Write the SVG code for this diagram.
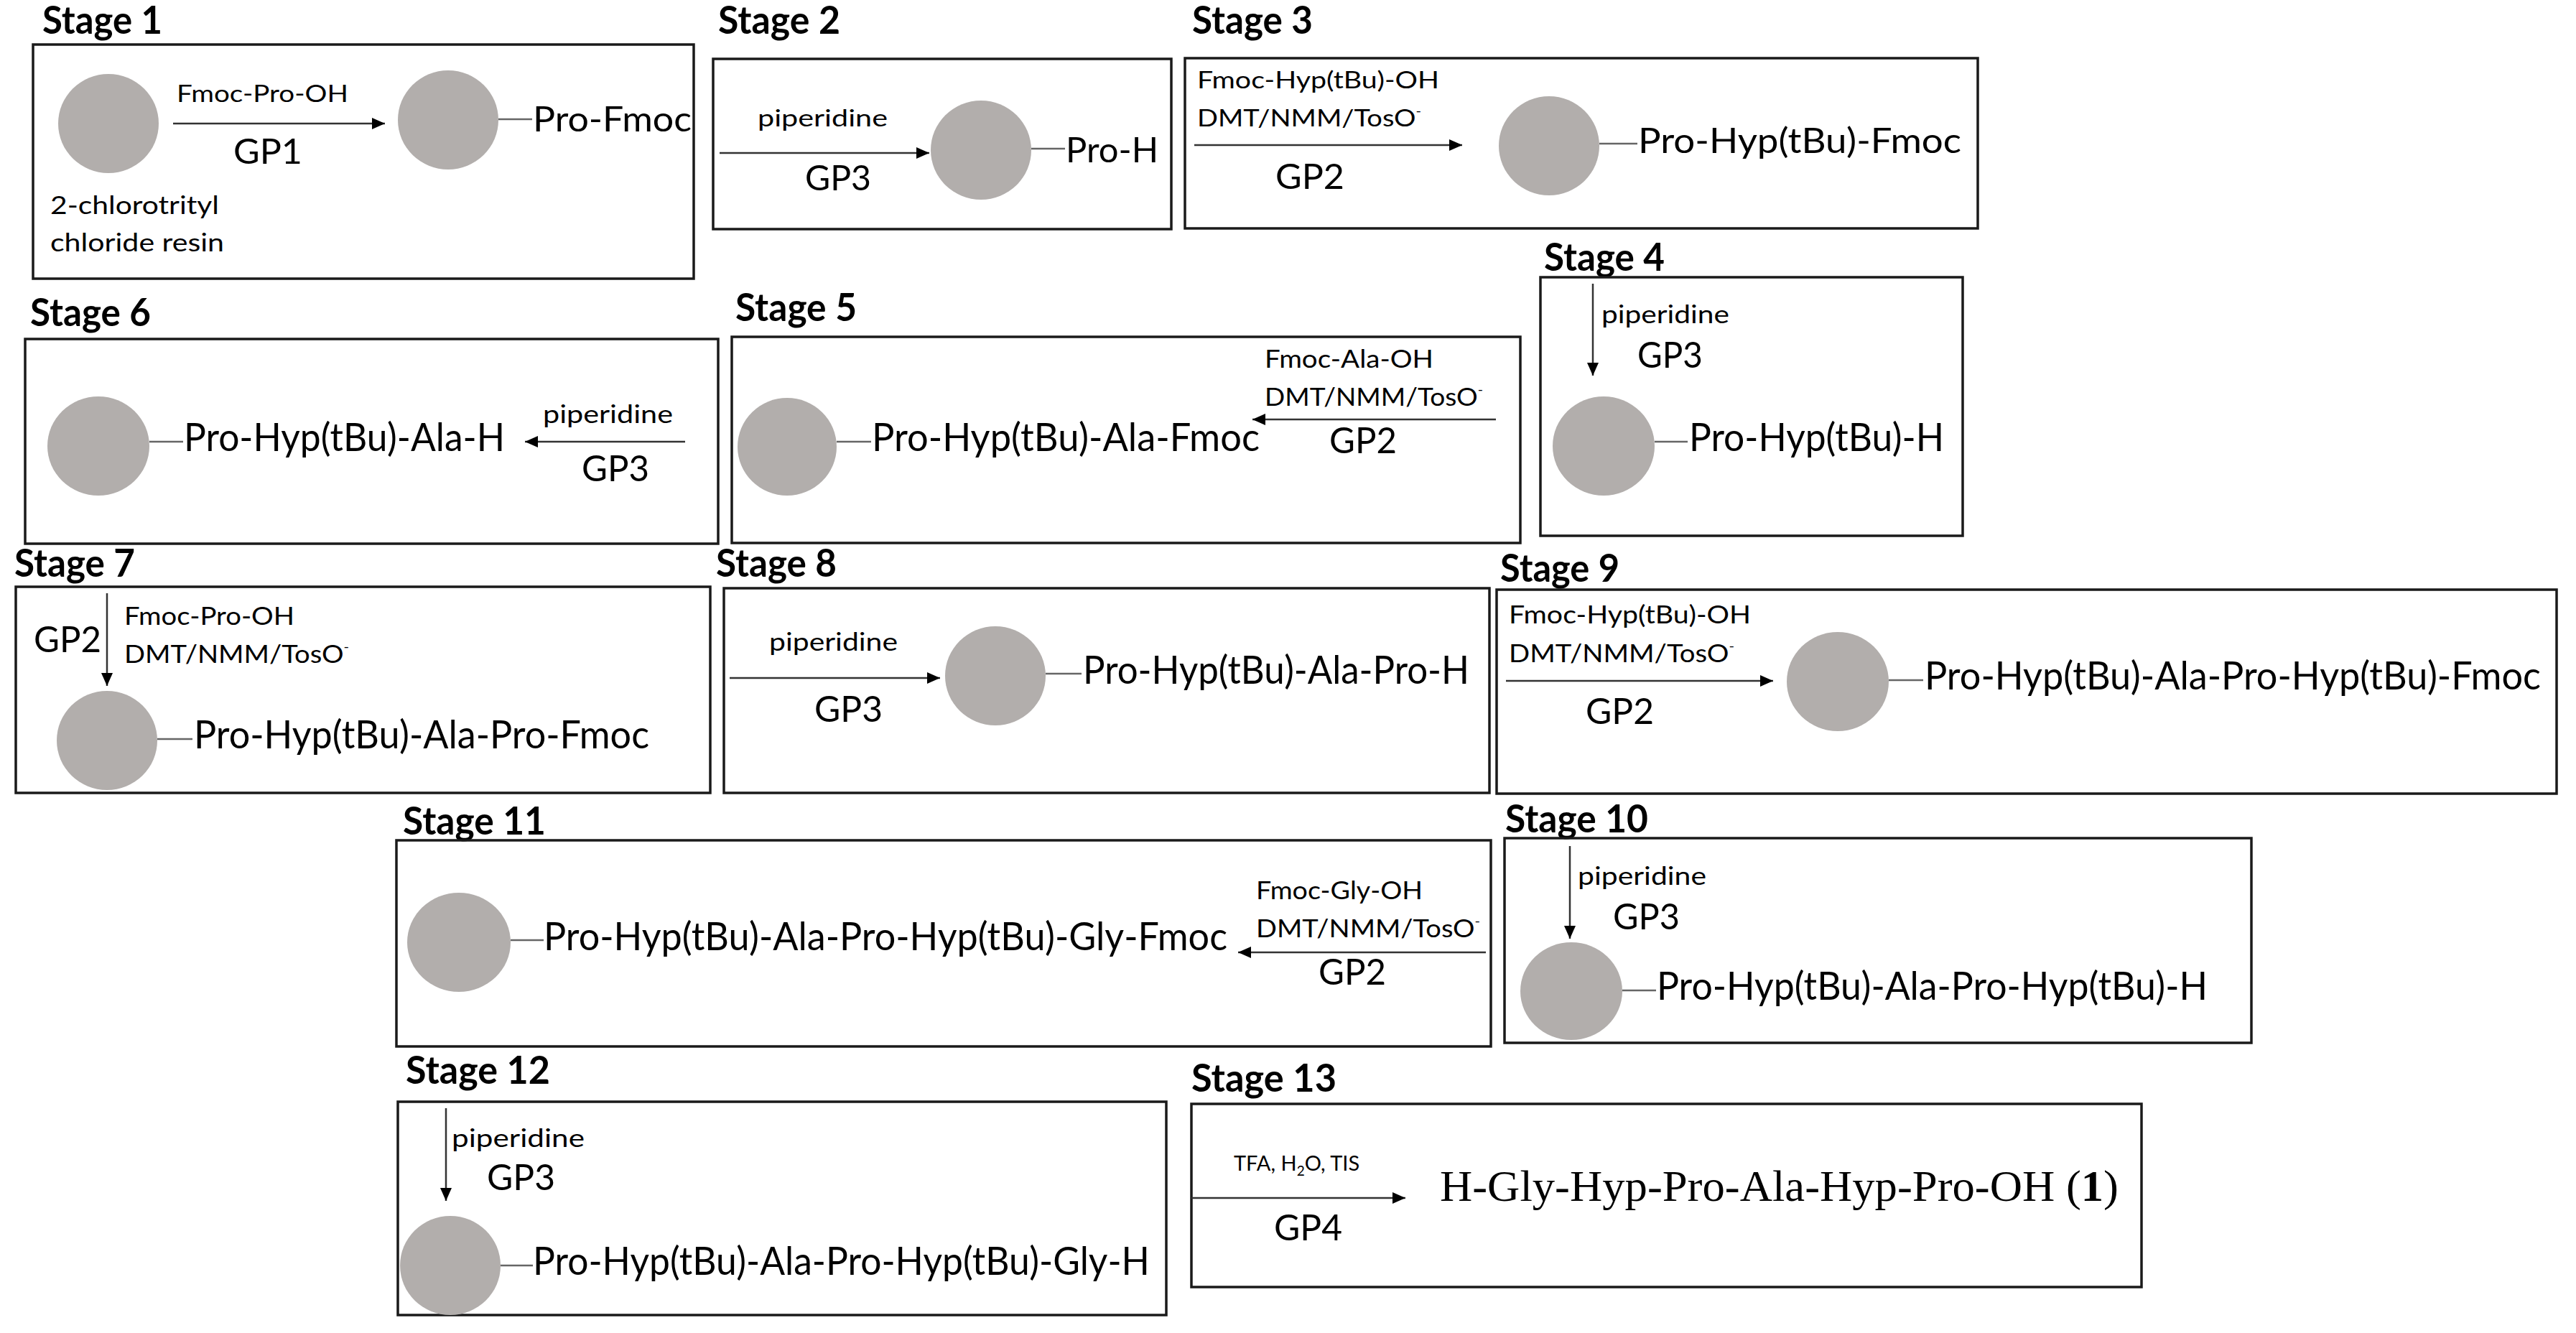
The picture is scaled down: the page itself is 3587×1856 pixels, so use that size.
<svg xmlns="http://www.w3.org/2000/svg" width="3587" height="1856" viewBox="0 0 3587 1856">
<style>
.bg{fill:#ffffff}
.box{fill:none;stroke:#1a1a1a;stroke-width:3.5}
.bead{fill:#b2aeac}
.tie{stroke:#666666;stroke-width:2.5}
.arr{stroke:#333333;stroke-width:2.5;fill:none;marker-end:url(#ah)}
.st{font-family:Lato,"Open Sans","Liberation Sans",sans-serif;font-weight:bold;font-size:54px;fill:#000}
.pr{font-family:Lato,"Open Sans","Liberation Sans",sans-serif;font-size:55px;fill:#000}
.pr1{font-family:Lato,"Open Sans","Liberation Sans",sans-serif;font-size:48px;fill:#000}
.gp{font-family:Lato,"Open Sans","Liberation Sans",sans-serif;font-size:50px;fill:#000}
.gp1{font-family:Lato,"Open Sans","Liberation Sans",sans-serif;font-size:48px;fill:#000}
.rg{font-family:Lato,"Open Sans","Liberation Sans",sans-serif;font-size:34px;fill:#000}
.rg1{font-family:Lato,"Open Sans","Liberation Sans",sans-serif;font-size:32px;fill:#000}
.sm{font-family:Lato,"Open Sans","Liberation Sans",sans-serif;font-size:29px;fill:#000}
.fin{font-family:"Liberation Serif","Times New Roman",serif;font-size:61px;fill:#000}
</style>
<defs>
<marker id="ah" markerUnits="userSpaceOnUse" markerWidth="20" markerHeight="18" refX="18" refY="8" orient="auto">
<path d="M0,0 L18,8 L0,16 z" fill="#000"/>
</marker>
</defs>
<rect class="bg" x="0" y="0" width="3587" height="1856"/>

<g id="stage1">
<text class="st" x="59" y="47" textLength="167" lengthAdjust="spacingAndGlyphs">Stage 1</text>
<rect class="box" x="46" y="62" width="920" height="326"/>
<ellipse class="bead" cx="151" cy="172" rx="70" ry="69"/>
<text class="rg1" x="246" y="142" textLength="239" lengthAdjust="spacingAndGlyphs">Fmoc-Pro-OH</text>
<text class="gp1" x="325" y="228" textLength="96" lengthAdjust="spacingAndGlyphs">GP1</text>
<ellipse class="bead" cx="624" cy="167" rx="70" ry="69"/>
<line class="tie" x1="694" y1="166" x2="741" y2="166"/>
<text class="pr1" x="742" y="183" textLength="221" lengthAdjust="spacingAndGlyphs">Pro-Fmoc</text>
<text class="rg" x="70" y="298" textLength="235" lengthAdjust="spacingAndGlyphs">2-chlorotrityl</text>
<text class="rg" x="70" y="350" textLength="242" lengthAdjust="spacingAndGlyphs">chloride resin</text>
</g>

<g id="stage2">
<text class="st" x="1000" y="47" textLength="170" lengthAdjust="spacingAndGlyphs">Stage 2</text>
<rect class="box" x="993" y="82" width="638" height="237"/>
<text class="rg1" x="1055" y="176" textLength="181" lengthAdjust="spacingAndGlyphs">piperidine</text>
<text class="gp1" x="1121" y="265" textLength="92" lengthAdjust="spacingAndGlyphs">GP3</text>
<ellipse class="bead" cx="1366" cy="209" rx="70" ry="69"/>
<line class="tie" x1="1436" y1="207" x2="1483" y2="207"/>
<text class="pr1" x="1484" y="226" textLength="129" lengthAdjust="spacingAndGlyphs">Pro-H</text>
</g>

<g id="stage3">
<text class="st" x="1660" y="47" textLength="168" lengthAdjust="spacingAndGlyphs">Stage 3</text>
<rect class="box" x="1650" y="81" width="1104" height="237"/>
<text class="rg1" x="1667" y="123" textLength="337" lengthAdjust="spacingAndGlyphs">Fmoc-Hyp(tBu)-OH</text>
<text class="rg1" x="1667" y="176" textLength="312" lengthAdjust="spacingAndGlyphs">DMT/NMM/TosO<tspan font-size="17" dy="-15">-</tspan></text>
<text class="gp1" x="1776" y="263" textLength="96" lengthAdjust="spacingAndGlyphs">GP2</text>
<ellipse class="bead" cx="2157" cy="203" rx="70" ry="69"/>
<line class="tie" x1="2227" y1="200" x2="2280" y2="200"/>
<text class="pr1" x="2281" y="213" textLength="450" lengthAdjust="spacingAndGlyphs">Pro-Hyp(tBu)-Fmoc</text>
</g>

<g id="stage4">
<text class="st" x="2150" y="377" textLength="168" lengthAdjust="spacingAndGlyphs">Stage 4</text>
<rect class="box" x="2145" y="386" width="588" height="360"/>
<text class="rg" x="2230" y="450" textLength="178" lengthAdjust="spacingAndGlyphs">piperidine</text>
<text class="gp" x="2280" y="512" textLength="91" lengthAdjust="spacingAndGlyphs">GP3</text>
<ellipse class="bead" cx="2233" cy="621" rx="71" ry="69"/>
<line class="tie" x1="2304" y1="615" x2="2350" y2="615"/>
<text class="pr" x="2352" y="628" textLength="355" lengthAdjust="spacingAndGlyphs">Pro-Hyp(tBu)-H</text>
</g>

<g id="stage5">
<text class="st" x="1024" y="447" textLength="169" lengthAdjust="spacingAndGlyphs">Stage 5</text>
<rect class="box" x="1019" y="469" width="1098" height="287"/>
<ellipse class="bead" cx="1096" cy="622" rx="69" ry="68"/>
<line class="tie" x1="1165" y1="615" x2="1213" y2="615"/>
<text class="pr" x="1214" y="628" textLength="540" lengthAdjust="spacingAndGlyphs">Pro-Hyp(tBu)-Ala-Fmoc</text>
<text class="rg" x="1761" y="512" textLength="235" lengthAdjust="spacingAndGlyphs">Fmoc-Ala-OH</text>
<text class="rg" x="1761" y="565" textLength="304" lengthAdjust="spacingAndGlyphs">DMT/NMM/TosO<tspan font-size="18" dy="-16">-</tspan></text>
<text class="gp" x="1851" y="631" textLength="94" lengthAdjust="spacingAndGlyphs">GP2</text>
</g>

<g id="stage6">
<text class="st" x="42" y="454" textLength="168" lengthAdjust="spacingAndGlyphs">Stage 6</text>
<rect class="box" x="35" y="472" width="965" height="285"/>
<ellipse class="bead" cx="137" cy="621" rx="71" ry="69"/>
<line class="tie" x1="208" y1="615" x2="255" y2="615"/>
<text class="pr" x="256" y="628" textLength="447" lengthAdjust="spacingAndGlyphs">Pro-Hyp(tBu)-Ala-H</text>
<text class="rg" x="756" y="589" textLength="181" lengthAdjust="spacingAndGlyphs">piperidine</text>
<text class="gp" x="810" y="670" textLength="94" lengthAdjust="spacingAndGlyphs">GP3</text>
</g>

<g id="stage7">
<text class="st" x="20" y="803" textLength="168" lengthAdjust="spacingAndGlyphs">Stage 7</text>
<rect class="box" x="22" y="817" width="967" height="287"/>
<text class="gp" x="47" y="908" textLength="94" lengthAdjust="spacingAndGlyphs">GP2</text>
<text class="rg" x="173" y="870" textLength="237" lengthAdjust="spacingAndGlyphs">Fmoc-Pro-OH</text>
<text class="rg" x="173" y="923" textLength="313" lengthAdjust="spacingAndGlyphs">DMT/NMM/TosO<tspan font-size="18" dy="-16">-</tspan></text>
<ellipse class="bead" cx="149" cy="1031" rx="70" ry="69"/>
<line class="tie" x1="219" y1="1029" x2="268" y2="1029"/>
<text class="pr" x="270" y="1042" textLength="634" lengthAdjust="spacingAndGlyphs">Pro-Hyp(tBu)-Ala-Pro-Fmoc</text>
</g>

<g id="stage8">
<text class="st" x="997" y="803" textLength="168" lengthAdjust="spacingAndGlyphs">Stage 8</text>
<rect class="box" x="1008" y="819" width="1066" height="285"/>
<text class="rg" x="1071" y="906" textLength="179" lengthAdjust="spacingAndGlyphs">piperidine</text>
<text class="gp" x="1134" y="1005" textLength="95" lengthAdjust="spacingAndGlyphs">GP3</text>
<ellipse class="bead" cx="1386" cy="941" rx="70" ry="69"/>
<line class="tie" x1="1456" y1="938" x2="1506" y2="938"/>
<text class="pr" x="1508" y="952" textLength="538" lengthAdjust="spacingAndGlyphs">Pro-Hyp(tBu)-Ala-Pro-H</text>
</g>

<g id="stage9">
<text class="st" x="2089" y="810" textLength="166" lengthAdjust="spacingAndGlyphs">Stage 9</text>
<rect class="box" x="2084" y="821" width="1476" height="284"/>
<text class="rg" x="2101" y="868" textLength="337" lengthAdjust="spacingAndGlyphs">Fmoc-Hyp(tBu)-OH</text>
<text class="rg" x="2101" y="922" textLength="314" lengthAdjust="spacingAndGlyphs">DMT/NMM/TosO<tspan font-size="18" dy="-16">-</tspan></text>
<text class="gp" x="2208" y="1008" textLength="95" lengthAdjust="spacingAndGlyphs">GP2</text>
<ellipse class="bead" cx="2559" cy="949" rx="71" ry="69"/>
<line class="tie" x1="2630" y1="947" x2="2678" y2="947"/>
<text class="pr" x="2680" y="960" textLength="858" lengthAdjust="spacingAndGlyphs">Pro-Hyp(tBu)-Ala-Pro-Hyp(tBu)-Fmoc</text>
</g>

<g id="stage10">
<text class="st" x="2096" y="1159" textLength="199" lengthAdjust="spacingAndGlyphs">Stage 10</text>
<rect class="box" x="2095" y="1167" width="1040" height="285"/>
<text class="rg" x="2197" y="1232" textLength="179" lengthAdjust="spacingAndGlyphs">piperidine</text>
<text class="gp" x="2246" y="1294" textLength="93" lengthAdjust="spacingAndGlyphs">GP3</text>
<ellipse class="bead" cx="2188" cy="1380" rx="71" ry="68"/>
<line class="tie" x1="2259" y1="1379" x2="2306" y2="1379"/>
<text class="pr" x="2307" y="1392" textLength="767" lengthAdjust="spacingAndGlyphs">Pro-Hyp(tBu)-Ala-Pro-Hyp(tBu)-H</text>
</g>

<g id="stage11">
<text class="st" x="561" y="1162" textLength="199" lengthAdjust="spacingAndGlyphs">Stage 11</text>
<rect class="box" x="552" y="1170" width="1524" height="287"/>
<ellipse class="bead" cx="639" cy="1312" rx="72" ry="69"/>
<line class="tie" x1="711" y1="1309" x2="757" y2="1309"/>
<text class="pr" x="757" y="1323" textLength="952" lengthAdjust="spacingAndGlyphs">Pro-Hyp(tBu)-Ala-Pro-Hyp(tBu)-Gly-Fmoc</text>
<text class="rg" x="1749" y="1252" textLength="232" lengthAdjust="spacingAndGlyphs">Fmoc-Gly-OH</text>
<text class="rg" x="1749" y="1305" textLength="312" lengthAdjust="spacingAndGlyphs">DMT/NMM/TosO<tspan font-size="18" dy="-16">-</tspan></text>
<text class="gp" x="1836" y="1371" textLength="94" lengthAdjust="spacingAndGlyphs">GP2</text>
</g>

<g id="stage12">
<text class="st" x="565" y="1509" textLength="201" lengthAdjust="spacingAndGlyphs">Stage 12</text>
<rect class="box" x="554" y="1534" width="1070" height="297"/>
<text class="rg" x="629" y="1597" textLength="185" lengthAdjust="spacingAndGlyphs">piperidine</text>
<text class="gp" x="678" y="1657" textLength="95" lengthAdjust="spacingAndGlyphs">GP3</text>
<ellipse class="bead" cx="627" cy="1762" rx="70" ry="69"/>
<line class="tie" x1="697" y1="1762" x2="742" y2="1762"/>
<text class="pr" x="742" y="1775" textLength="859" lengthAdjust="spacingAndGlyphs">Pro-Hyp(tBu)-Ala-Pro-Hyp(tBu)-Gly-H</text>
</g>

<g id="stage13">
<text class="st" x="1659" y="1520" textLength="202" lengthAdjust="spacingAndGlyphs">Stage 13</text>
<rect class="box" x="1659" y="1537" width="1323" height="255"/>
<text class="sm" x="1718" y="1630">TFA, H<tspan font-size="19" dy="7">2</tspan><tspan dy="-7">O, TIS</tspan></text>
<text class="gp" x="1774" y="1727" textLength="95" lengthAdjust="spacingAndGlyphs">GP4</text>
<text class="fin" x="2005" y="1672" textLength="945" lengthAdjust="spacingAndGlyphs">H-Gly-Hyp-Pro-Ala-Hyp-Pro-OH (<tspan font-weight="bold">1</tspan>)</text>
</g>

<g id="connectors">
<line class="arr" x1="241" y1="172" x2="536" y2="172"/>
<line class="arr" x1="1002" y1="213" x2="1294" y2="213"/>
<line class="arr" x1="1663" y1="202" x2="2036" y2="202"/>
<line class="arr" x1="2218" y1="395" x2="2218" y2="523"/>
<line class="arr" x1="2083" y1="584" x2="1744" y2="584"/>
<line class="arr" x1="954" y1="615" x2="731" y2="615"/>
<line class="arr" x1="149" y1="826" x2="149" y2="955"/>
<line class="arr" x1="1016" y1="944" x2="1309" y2="944"/>
<line class="arr" x1="2097" y1="948" x2="2469" y2="948"/>
<line class="arr" x1="2186" y1="1178" x2="2186" y2="1307"/>
<line class="arr" x1="2069" y1="1326" x2="1724" y2="1326"/>
<line class="arr" x1="621" y1="1543" x2="621" y2="1672"/>
<line class="arr" x1="1659" y1="1668" x2="1957" y2="1668"/>
</g>
</svg>
